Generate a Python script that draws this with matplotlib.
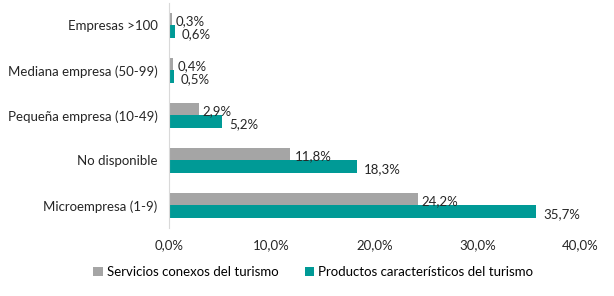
import matplotlib
matplotlib.use("Agg")
import matplotlib.pyplot as plt
import numpy as np

categories = ["Microempresa (1-9)", "No disponible", "Pequeña empresa (10-49)",
              "Mediana empresa (50-99)", "Empresas >100"]
servicios = [24.2, 11.8, 2.9, 0.4, 0.3]
productos = [35.7, 18.3, 5.2, 0.5, 0.6]
series_names = ["Servicios conexos del turismo", "Productos característicos del turismo"]
xticks = [0, 10, 20, 30, 40]

plt.rcParams['font.family'] = ['Lato', 'DejaVu Sans']

fig = plt.figure(figsize=(6.14, 2.96), dpi=100)
ax = fig.add_axes([0.275, 0.23, 0.67, 0.76])

y = np.arange(len(categories))
h = 0.27
gray = "#A5A5A5"
teal = "#009A96"
ax.barh(y + h/2, servicios, height=h, color=gray, label=series_names[0])
ax.barh(y - h/2, productos, height=h, color=teal, label=series_names[1])

for yi, v in zip(y, servicios):
    ax.annotate(f"{v:.1f}%".replace(".", ","), (v, yi + h/2), xytext=(3, -1),
                textcoords="offset points", va="center", ha="left", fontsize=9.5, color="#262626")
for yi, v in zip(y, productos):
    ax.annotate(f"{v:.1f}%".replace(".", ","), (v, yi - h/2), xytext=(5, -2),
                textcoords="offset points", va="center", ha="left", fontsize=9.5, color="#262626")

ax.set_xlim(0, 40)
ax.set_ylim(-0.5, 4.5)
ax.set_yticks(y)
ax.set_yticklabels(categories, fontsize=9.5, color="#262626")
ax.set_xticks(xticks)
ax.set_xticklabels([f"{t:.1f}%".replace(".", ",") for t in xticks], fontsize=9.5, color="#262626")
ax.tick_params(length=0, pad=8)
ax.tick_params(axis='x', pad=8)
for s in ["top", "right", "bottom"]:
    ax.spines[s].set_visible(False)
ax.spines["left"].set_color("#D9D9D9")

handles, labels = ax.get_legend_handles_labels()
fig.legend(handles, labels, loc="center", bbox_to_anchor=(0.51, 0.08), ncol=2, frameon=False,
           fontsize=9.5, handlelength=0.7, handleheight=0.7, handletextpad=0.3, columnspacing=2.0)

fig.savefig("out.png", dpi=100)
